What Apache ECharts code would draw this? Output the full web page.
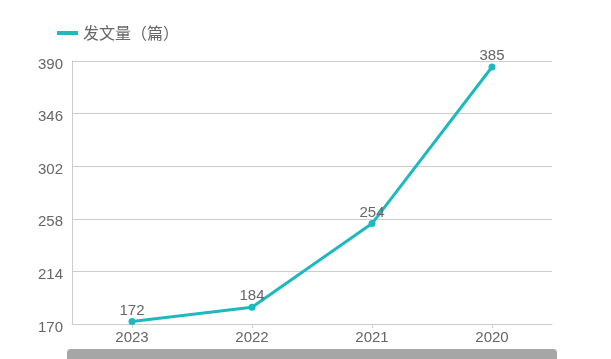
<!DOCTYPE html>
<html>
<head>
<meta charset="utf-8">
<script src="https://cdn.jsdelivr.net/npm/echarts@6/dist/echarts.min.js"></script>
<style>html,body{margin:0;padding:0;background:#fff;}#c{width:611px;height:359px;}</style>
</head>
<body>
<div id="c"></div>
<script>
var categories = ['2023', '2022', '2021', '2020'];
var seriesName = '发文量（篇）';
var values = [172, 184, 254, 385];
var yMin = 170, yMax = 390, yInterval = 44;

var chart = echarts.init(document.getElementById('c'));
chart.setOption({
  animation: false,
  legend: {
    left: 52, top: 20,
    icon: 'rect', itemWidth: 21, itemHeight: 4, itemGap: 10,
    textStyle: { color: '#666', fontSize: 16, fontFamily: '"Noto Sans CJK SC", sans-serif' },
    data: [seriesName]
  },
  grid: { left: 72, right: 59, top: 61, bottom: 35 },
  xAxis: {
    type: 'category', data: categories, boundaryGap: true,
    axisLine: { lineStyle: { color: '#ccc' } },
    axisTick: { show: true, alignWithLabel: true, length: 4, lineStyle: { color: '#ccc' } },
    axisLabel: { color: '#666', fontSize: 15, margin: 6, fontFamily: '"Liberation Sans", Arial, sans-serif' }
  },
  yAxis: {
    type: 'value', min: yMin, max: yMax, interval: yInterval,
    axisLine: { show: true, lineStyle: { color: '#ccc' } },
    axisTick: { show: false },
    splitLine: { lineStyle: { color: '#ccc' } },
    axisLabel: { color: '#666', fontSize: 15, margin: 9, verticalAlign: 'top', padding: [-4,0,0,0], fontFamily: '"Liberation Sans", Arial, sans-serif' }
  },
  series: [{
    name: seriesName, type: 'line', data: values,
    symbol: 'circle', symbolSize: 7,
    itemStyle: { color: '#1db8c0' },
    lineStyle: { width: 3, color: '#1db8c0' },
    label: { show: true, position: 'top', distance: 0, color: '#666', fontSize: 15, fontFamily: '"Liberation Sans", Arial, sans-serif' }
  }],
  graphic: [{
    type: 'rect', left: 67, top: 349,
    shape: { width: 490, height: 12, r: [4, 4, 0, 0] },
    style: { fill: '#a6a6a6' }
  }]
});
</script>
</body>
</html>
